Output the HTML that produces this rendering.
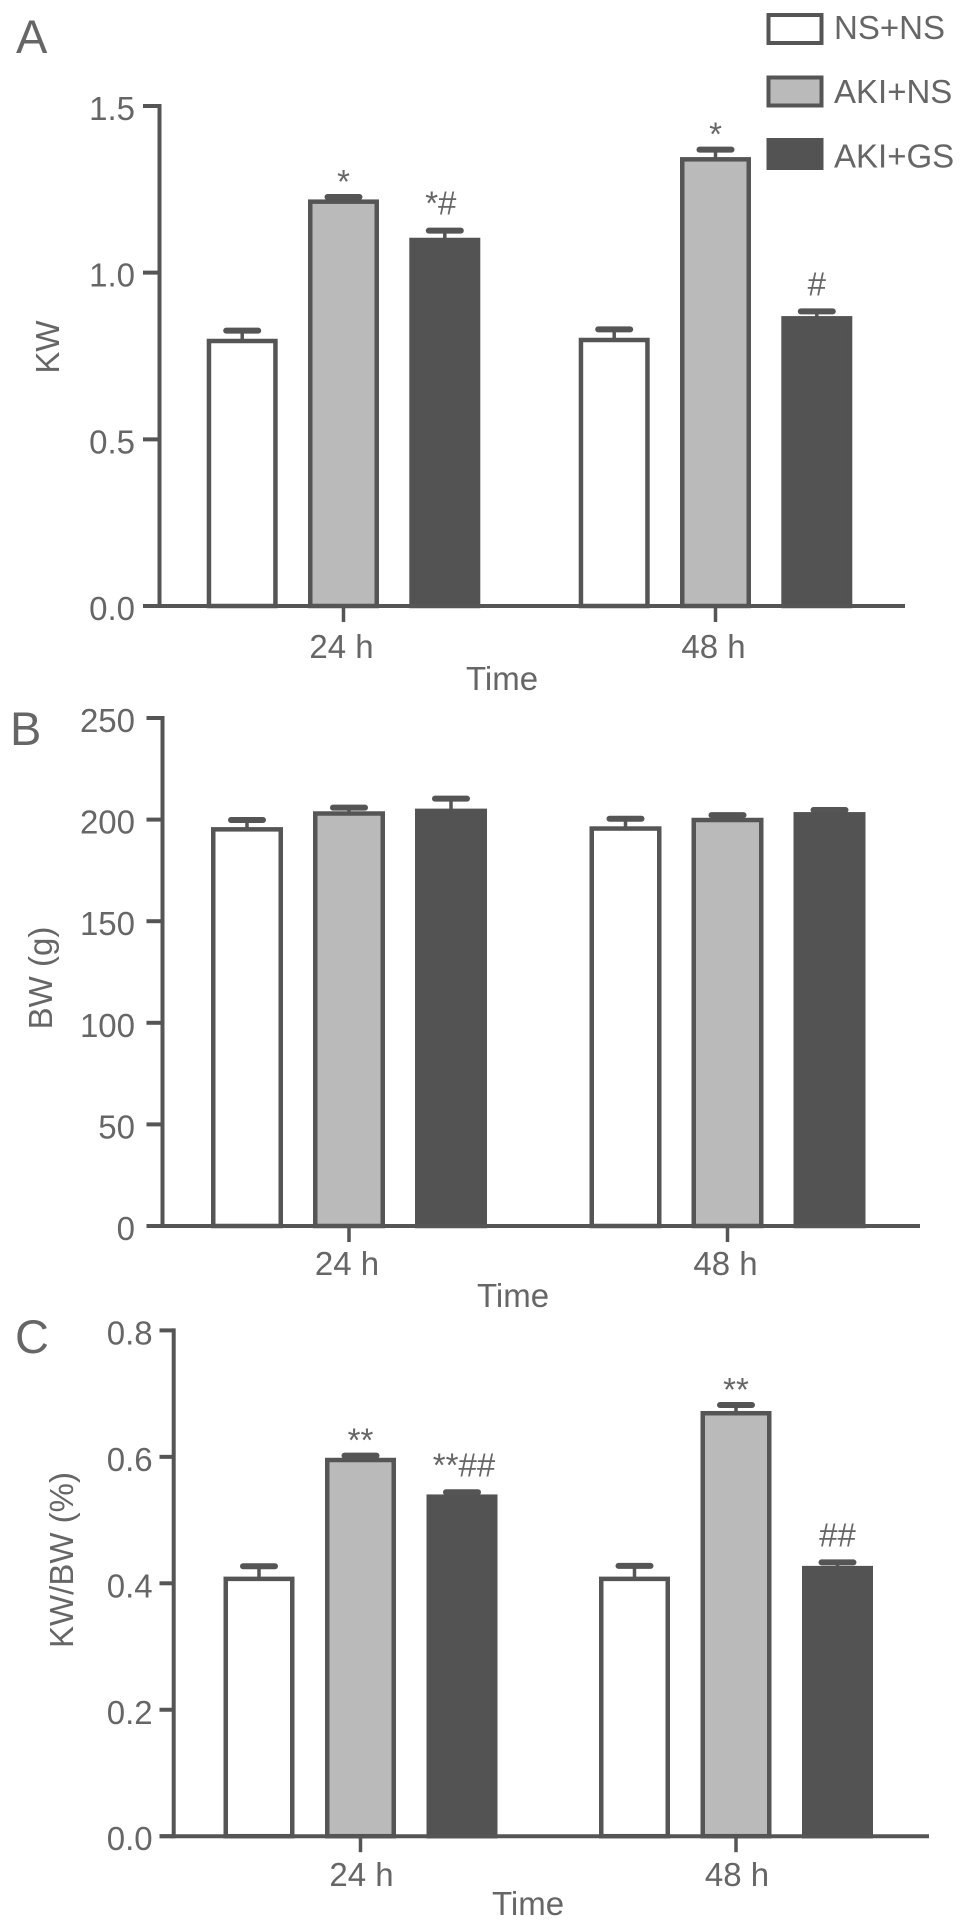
<!DOCTYPE html>
<html lang="en">
<head>
<meta charset="utf-8">
<title>KW, BW and KW/BW bar charts</title>
<style>
html,body{margin:0;padding:0;background:#fff;}
svg{display:block;}
text{font-family:"Liberation Sans",sans-serif;font-size:33px;fill:#666;}
</style>
</head>
<body>
<svg id="figure" width="969" height="1928" viewBox="0 0 969 1928" xmlns="http://www.w3.org/2000/svg"></svg>
<script>
const categories = ['24 h', '48 h'];
const seriesNames = ['NS+NS', 'AKI+NS', 'AKI+GS'];
const kwTicks = ['0.0', '0.5', '1.0', '1.5'];
const bwTicks = ['0', '50', '100', '150', '200', '250'];
const ratioTicks = ['0.0', '0.2', '0.4', '0.6', '0.8'];
const kwMeans = [[0.795, 1.213, 1.098], [0.798, 1.34, 0.863]];
const kwUpper = [[0.826, 1.227, 1.126], [0.83, 1.369, 0.884]];
const kwMarks = [['', '*', '*#'], ['', '*', '#']];
const bwMeans = [[195.2, 203, 204.3], [195.6, 199.8, 202.6]];
const bwUpper = [[199.8, 205.9, 210.3], [200.4, 202.2, 204.7]];
const bwMarks = [['', '', ''], ['', '', '']];
const ratioMeans = [[0.407, 0.595, 0.537], [0.407, 0.669, 0.424]];
const ratioUpper = [[0.427, 0.602, 0.544], [0.4275, 0.682, 0.433]];
const ratioMarks = [['', '**', '**##'], ['', '**', '##']];

const svg = document.getElementById('figure');
const NS = 'http://www.w3.org/2000/svg';
const ink = '#555';
const fills = ['#ffffff', '#bababa', '#535353'];

function make(tag, attrs, parent) {
  const node = document.createElementNS(NS, tag);
  for (const k in attrs) node.setAttribute(k, attrs[k]);
  (parent || svg).appendChild(node);
  return node;
}
function line(x1, y1, x2, y2, w, parent) {
  return make('line', {x1: x1, y1: y1, x2: x2, y2: y2, stroke: ink, 'stroke-width': w}, parent);
}
function label(str, x, y, anchor, parent) {
  const t = make('text', {x: x, y: y, 'text-anchor': anchor}, parent);
  t.textContent = str;
  return t;
}
function markOffsetX(mark) {
  if (mark === '*#') return -4;
  if (mark === '**##') return 2;
  return 0;
}
function markOffsetY(mark) {
  if (mark.indexOf('#') >= 0) return -16;
  return -4;
}

function drawPanel(p) {
  const g = make('g', {});
  
  

  const yScale = v => p.y0 - (v / p.max) * (p.y0 - p.yTop);
  const xBar = (c, s) => p.centers[c] + (s - 1) * p.step;

  const letter = make('text', {x: p.letterX, y: p.letterY, style: 'font-size:47px'}, g);
  letter.textContent = p.letter;
  
  

  // bars and error bars
  p.means.forEach((row, c) => {
    row.forEach((v, s) => {
      const cx = xBar(c, s);
      const top = yScale(v);
      const cap = yScale(p.upper[c][s]);
      const stem = line(cx, top, cx, cap, 3.5, g);
      
      
      const whisker = make('line', {x1: cx - 16, y1: cap, x2: cx + 16, y2: cap, stroke: ink, 'stroke-width': 6, 'stroke-linecap': 'round'}, g);
      
      
      const bar = make('rect', {x: cx - p.barW / 2 + 2.25, y: top, width: p.barW - 4.5, height: p.y0 - top, fill: fills[s], stroke: s === 2 ? fills[2] : ink, 'stroke-width': 4.5}, g);
      
      
      const mark = p.marks[c][s];
      if (mark) {
        const a = label(mark, cx + markOffsetX(mark), cap + markOffsetY(mark), 'middle', g);
        
        
      }
    });
  });

  // axes
  const yAxis = line(p.axisX, p.yTop - 2, p.axisX, p.y0 + 2, 4, g);
  
  
  const xAxis = line(p.tickLeft, p.y0, p.axisEnd, p.y0, 4, g);
  
  

  p.ticks.forEach(tick => {
    const ty = yScale(parseFloat(tick));
    const tm = line(p.tickLeft, ty, p.axisX, ty, 4, g);
    
    
    const tl = label(tick, p.tickRight, ty + 14, 'end', g);
    
    
  });

  categories.forEach((cat, c) => {
    const cx = p.centers[c];
    const tm = line(cx, p.y0, cx, p.y0 + 16, 3.5, g);
    
    
    const tl = label(cat, cx - p.catShift, p.catY, 'middle', g);
    
    
  });

  const xTitle = label('Time', p.timeX, p.timeY, 'middle', g);
  
  

  const yTitle = label(p.title, 0, 0, 'middle', g);
  yTitle.setAttribute('transform', 'translate(' + p.titleX + ' ' + p.titleY + ') rotate(-90)');
  
  
}

drawPanel({key: 'kw', letter: 'A', letterX: 16, letterY: 53, title: 'KW', titleX: 59, titleY: 347,
  means: kwMeans, upper: kwUpper, marks: kwMarks, ticks: kwTicks, max: 1.5,
  axisX: 159.5, yTop: 106, y0: 606, tickLeft: 143, axisEnd: 905, tickRight: 135,
  centers: [343.5, 715.5], step: 101.3, barW: 71, catShift: 2, catY: 658, timeX: 502, timeY: 690});

drawPanel({key: 'bw', letter: 'B', letterX: 10, letterY: 745, title: 'BW (g)', titleX: 52, titleY: 978,
  means: bwMeans, upper: bwUpper, marks: bwMarks, ticks: bwTicks, max: 250,
  axisX: 162.5, yTop: 718, y0: 1226, tickLeft: 146.5, axisEnd: 920, tickRight: 135,
  centers: [349, 727.5], step: 102, barW: 72, catShift: 2, catY: 1275, timeX: 513, timeY: 1307});

drawPanel({key: 'ratio', letter: 'C', letterX: 15, letterY: 1353, title: 'KW/BW (%)', titleX: 73, titleY: 1560,
  means: ratioMeans, upper: ratioUpper, marks: ratioMarks, ticks: ratioTicks, max: 0.8,
  axisX: 173.7, yTop: 1330.4, y0: 1836.2, tickLeft: 159.5, axisEnd: 929, tickRight: 152.6,
  centers: [360.5, 736], step: 101.5, barW: 71, catShift: -1, catY: 1886, timeX: 528, timeY: 1915});

// legend
const legend = make('g', {});


seriesNames.forEach((name, s) => {
  const entry = make('g', {}, legend);
  
  
  const top = 15 + s * 62.5;
  const swatch = make('rect', {x: 768.5, y: top, width: 53, height: 28, fill: fills[s], stroke: s === 2 ? fills[2] : ink, 'stroke-width': 4}, entry);
  
  
  const txt = label(name, 834, 39 + s * 64.2, 'start', entry);
  
  
});
</script>
</body>
</html>
